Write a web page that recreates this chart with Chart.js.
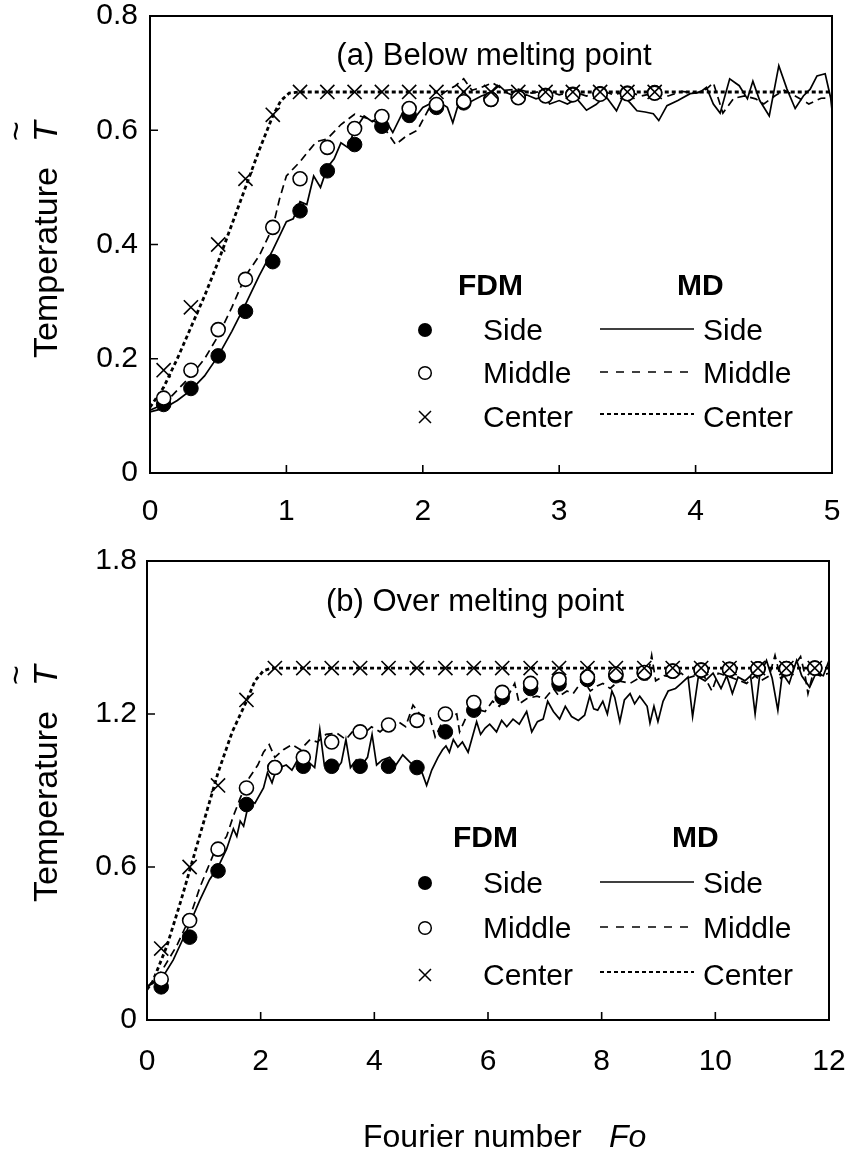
<!DOCTYPE html>
<html>
<head>
<meta charset="utf-8">
<script src="https://cdn.jsdelivr.net/npm/chart.js@4.4.1/dist/chart.umd.min.js"></script>
<style>
  html, body { margin: 0; padding: 0; background: #fff; }
  #wrap { position: relative; width: 846px; height: 1153px; }
  canvas { position: absolute; left: 0; }
</style>
</head>
<body>
<div id="wrap">
  <canvas id="chartA" width="846" height="540" style="top:0"></canvas>
  <canvas id="chartB" width="846" height="613" style="top:540px"></canvas>
</div>
<script>
const FONT = "'Liberation Sans', Arial, Helvetica, sans-serif";

// ---- (a) Below melting point ----
const fdmFoA = [0.1, 0.3, 0.5, 0.7, 0.9, 1.1, 1.3, 1.5, 1.7, 1.9, 2.1, 2.3, 2.5, 2.7, 2.9, 3.1, 3.3, 3.5, 3.7];
const fdmSideA = [0.12, 0.148, 0.205, 0.283, 0.37, 0.459, 0.529, 0.575, 0.607, 0.626, 0.64, 0.648, 0.654, 0.658, 0.661, 0.663, 0.664, 0.665, 0.666];
const fdmMiddleA = [0.131, 0.18, 0.251, 0.339, 0.43, 0.515, 0.57, 0.603, 0.624, 0.638, 0.645, 0.65, 0.654, 0.657, 0.66, 0.662, 0.663, 0.664, 0.665];
const fdmCenterA = [0.18, 0.29, 0.4, 0.515, 0.627, 0.667, 0.667, 0.667, 0.667, 0.667, 0.667, 0.667, 0.667, 0.667, 0.667, 0.667, 0.667, 0.667, 0.667];

// MD curves, [Fo, T]
const mdSideA = [[0,0.107],[0.1,0.113],[0.2,0.127],[0.3,0.145],[0.4,0.17],[0.5,0.205],[0.6,0.248],[0.7,0.295],[0.8,0.345],
  [0.9,0.39],[1.0,0.44],[1.05,0.445],[1.1,0.475],[1.15,0.47],[1.2,0.52],[1.25,0.5],[1.3,0.535],[1.35,0.55],[1.4,0.578],
  [1.45,0.57],[1.5,0.6],[1.57,0.625],[1.63,0.615],[1.7,0.628],[1.78,0.596],[1.85,0.63],[1.92,0.615],[2.0,0.64],[2.1,0.652],
  [2.18,0.64],[2.22,0.613],[2.26,0.645],[2.35,0.65],[2.43,0.66],[2.5,0.666],[2.56,0.678],[2.62,0.665],[2.7,0.657],[2.76,0.662],
  [2.83,0.655],[2.9,0.66],[2.93,0.646],[3.0,0.652],[3.06,0.646],[3.13,0.655],[3.2,0.635],[3.27,0.645],[3.34,0.66],[3.42,0.634],
  [3.47,0.66],[3.52,0.648],[3.57,0.634],[3.63,0.632],[3.69,0.629],[3.73,0.617],[3.79,0.643],[3.87,0.652],[3.96,0.664],[4.03,0.666],
  [4.08,0.675],[4.13,0.646],[4.18,0.63],[4.25,0.69],[4.32,0.678],[4.38,0.655],[4.42,0.686],[4.47,0.652],[4.54,0.625],[4.61,0.713],
  [4.67,0.672],[4.73,0.638],[4.79,0.66],[4.84,0.672],[4.89,0.695],[4.95,0.699],[4.99,0.657],[5.0,0.635]];
const mdMiddleA = [[0,0.11],[0.1,0.12],[0.2,0.145],[0.3,0.17],[0.4,0.2],[0.5,0.24],[0.6,0.29],[0.7,0.345],[0.8,0.38],[0.9,0.43],
  [0.95,0.48],[1.0,0.52],[1.1,0.545],[1.15,0.56],[1.22,0.58],[1.3,0.585],[1.4,0.61],[1.5,0.628],[1.6,0.62],[1.7,0.61],[1.8,0.575],
  [1.88,0.59],[1.96,0.6],[2.05,0.64],[2.15,0.665],[2.24,0.678],[2.3,0.69],[2.36,0.67],[2.43,0.675],[2.51,0.683],[2.6,0.67],
  [2.7,0.672],[2.8,0.665],[2.9,0.67],[3.0,0.662],[3.1,0.668],[3.2,0.66],[3.3,0.67],[3.4,0.662],[3.5,0.668],[3.6,0.66],[3.7,0.665],
  [3.8,0.66],[3.9,0.668],[4.0,0.665],[4.08,0.672],[4.13,0.683],[4.2,0.63],[4.28,0.656],[4.36,0.66],[4.44,0.655],[4.5,0.646],
  [4.58,0.66],[4.65,0.67],[4.73,0.66],[4.83,0.646],[4.92,0.656],[5.0,0.657]];
const mdCenterA = [[0,0.115],[0.1,0.15],[0.2,0.2],[0.3,0.255],[0.4,0.31],[0.5,0.37],[0.6,0.435],[0.7,0.5],[0.8,0.565],
  [0.9,0.625],[0.96,0.652],[1.02,0.665],[1.1,0.667],[5.0,0.667]];

// ---- (b) Over melting point ----
const fdmFoB = [0.25, 0.75, 1.25, 1.75, 2.25, 2.75, 3.25, 3.75, 4.25, 4.75, 5.25, 5.75, 6.25, 6.75, 7.25, 7.75, 8.25, 8.75, 9.25, 9.75, 10.25, 10.75, 11.25, 11.75];
const fdmSideB = [0.13, 0.325, 0.585, 0.845, 0.99, 0.995, 0.995, 0.995, 0.995, 0.99, 1.13, 1.215, 1.265, 1.3, 1.318, 1.335, 1.35, 1.36, 1.368, 1.372, 1.375, 1.377, 1.378, 1.38];
const fdmMiddleB = [0.16, 0.39, 0.67, 0.91, 0.99, 1.03, 1.09, 1.13, 1.157, 1.175, 1.2, 1.245, 1.285, 1.32, 1.335, 1.345, 1.357, 1.363, 1.368, 1.372, 1.375, 1.377, 1.378, 1.38];
const fdmCenterB = [0.28, 0.6, 0.92, 1.255, 1.38, 1.38, 1.38, 1.38, 1.38, 1.38, 1.38, 1.38, 1.38, 1.38, 1.38, 1.38, 1.38, 1.38, 1.38, 1.38, 1.38, 1.38, 1.38, 1.38];

const mdSideB = [[0,0.13],[0.15,0.15],[0.28,0.17],[0.46,0.235],[0.7,0.35],[0.93,0.47],[1.1,0.55],[1.25,0.6],[1.4,0.67],
  [1.52,0.75],[1.58,0.72],[1.64,0.78],[1.7,0.76],[1.8,0.86],[1.9,0.85],[2.05,0.91],[2.12,0.97],[2.2,0.93],[2.27,0.98],
  [2.34,0.99],[2.45,1.0],[2.55,0.98],[2.65,1.02],[2.75,0.99],[2.85,1.01],[2.95,0.99],[3.04,1.14],[3.12,1.0],[3.22,1.02],
  [3.32,0.98],[3.42,1.01],[3.5,1.1],[3.58,0.99],[3.68,1.02],[3.78,1.0],[3.88,1.03],[3.96,1.12],[4.04,1.0],[4.14,1.02],
  [4.27,1.03],[4.38,1.0],[4.5,1.04],[4.63,1.01],[4.75,0.99],[4.84,0.97],[4.92,0.92],[5.01,0.98],[5.12,1.03],[5.2,1.06],
  [5.26,1.075],[5.32,1.05],[5.39,1.1],[5.47,1.07],[5.55,1.09],[5.65,1.05],[5.8,1.17],[5.87,1.12],[5.95,1.145],[6.03,1.16],
  [6.15,1.13],[6.24,1.175],[6.33,1.15],[6.44,1.18],[6.55,1.16],[6.68,1.21],[6.77,1.13],[6.87,1.17],[6.97,1.18],[7.05,1.25],
  [7.15,1.21],[7.26,1.18],[7.36,1.23],[7.47,1.19],[7.59,1.175],[7.7,1.195],[7.79,1.27],[7.86,1.22],[7.93,1.215],[8.02,1.25],
  [8.1,1.2],[8.18,1.29],[8.23,1.265],[8.32,1.17],[8.4,1.255],[8.5,1.28],[8.58,1.24],[8.67,1.27],[8.8,1.23],[8.85,1.165],
  [8.92,1.23],[8.99,1.17],[9.08,1.25],[9.17,1.29],[9.3,1.3],[9.4,1.32],[9.52,1.345],[9.6,1.19],[9.7,1.345],[9.82,1.33],
  [9.96,1.36],[10.1,1.3],[10.2,1.35],[10.3,1.28],[10.4,1.345],[10.52,1.33],[10.62,1.35],[10.7,1.2],[10.78,1.35],[10.9,1.41],
  [11.0,1.34],[11.1,1.215],[11.18,1.36],[11.3,1.32],[11.43,1.41],[11.52,1.35],[11.66,1.305],[11.77,1.36],[11.9,1.35],[12.0,1.41]];
const mdMiddleB = [[0,0.13],[0.2,0.17],[0.52,0.29],[0.75,0.4],[0.93,0.52],[1.17,0.65],[1.4,0.72],[1.52,0.8],[1.64,0.87],
  [1.8,0.95],[1.95,1.0],[2.05,1.05],[2.15,1.08],[2.25,1.03],[2.4,1.06],[2.55,1.08],[2.7,1.06],[2.87,1.1],[3.0,1.09],[3.15,1.12],
  [3.34,1.125],[3.5,1.1],[3.65,1.14],[3.8,1.12],[3.95,1.15],[4.1,1.13],[4.25,1.16],[4.42,1.17],[4.55,1.15],[4.68,1.235],
  [4.8,1.2],[4.98,1.185],[5.07,1.11],[5.2,1.17],[5.32,1.19],[5.45,1.2],[5.5,1.13],[5.62,1.19],[5.78,1.22],[5.95,1.21],
  [6.08,1.25],[6.2,1.23],[6.35,1.27],[6.47,1.32],[6.55,1.24],[6.68,1.26],[6.86,1.27],[7.0,1.26],[7.15,1.3],[7.25,1.27],
  [7.39,1.29],[7.5,1.28],[7.67,1.335],[7.8,1.29],[7.92,1.31],[8.02,1.32],[8.15,1.3],[8.3,1.33],[8.5,1.32],[8.65,1.34],
  [8.8,1.335],[8.88,1.43],[8.95,1.33],[9.1,1.35],[9.23,1.345],[9.4,1.36],[9.5,1.34],[9.64,1.35],[9.8,1.35],[9.94,1.29],
  [10.05,1.36],[10.2,1.35],[10.38,1.335],[10.55,1.32],[10.7,1.35],[10.8,1.33],[10.95,1.35],[11.05,1.43],[11.15,1.34],
  [11.3,1.36],[11.5,1.425],[11.58,1.35],[11.63,1.28],[11.72,1.36],[11.85,1.35],[12.0,1.36]];
const mdCenterB = [[0,0.12],[0.1,0.15],[0.35,0.29],[0.6,0.47],[0.95,0.74],[1.25,0.97],[1.5,1.13],[1.75,1.25],[1.9,1.33],
  [2.05,1.37],[2.2,1.38],[12.0,1.38]];

const legendRows = ['Side', 'Middle', 'Center'];

function pts(xs, ys) {
  return xs.map((x, i) => ({ x: x, y: ys[i] }));
}
function pairs(list) {
  return list.map(p => ({ x: p[0], y: p[1] }));
}

function makeDatasets(fo, side, middle, center, mdS, mdM, mdC) {
  return [
    { label: 'FDM Center', data: pts(fo, center), showLine: false, pointStyle: 'crossRot', pointRadius: 10,
      borderColor: '#000', backgroundColor: '#000', borderWidth: 1.6, order: 0 },
    { label: 'FDM Middle', data: pts(fo, middle), showLine: false, pointStyle: 'circle', pointRadius: 7,
      borderColor: '#000', backgroundColor: '#fff', borderWidth: 1.6, order: 1 },
    { label: 'FDM Side', data: pts(fo, side), showLine: false, pointStyle: 'circle', pointRadius: 7.3,
      borderColor: '#000', backgroundColor: '#000', borderWidth: 1, order: 2 },
    { label: 'MD Side', data: pairs(mdS), showLine: true, pointRadius: 0, borderColor: '#000',
      borderWidth: 1.7, tension: 0, order: 3 },
    { label: 'MD Middle', data: pairs(mdM), showLine: true, pointRadius: 0, borderColor: '#000',
      borderWidth: 1.7, borderDash: [8, 5], tension: 0, order: 4 },
    { label: 'MD Center', data: pairs(mdC), showLine: true, pointRadius: 0, borderColor: '#000',
      borderWidth: 2.8, borderDash: [4, 3], tension: 0, order: 5 }
  ];
}

function drawYTitle(ctx, gx, gy) {
  ctx.save();
  ctx.translate(gx, gy);
  ctx.rotate(-Math.PI / 2);
  ctx.fillStyle = '#000';
  ctx.textBaseline = 'alphabetic';
  ctx.textAlign = 'left';
  ctx.font = '34px ' + FONT;
  ctx.fillText('Temperature', 0, 0);
  ctx.font = 'italic 34px ' + FONT;
  ctx.fillText('T', 216, 0);
  ctx.font = '34px ' + FONT;
  ctx.textAlign = 'center';
  ctx.fillText('~', 227, -30);
  ctx.restore();
}

function drawLegend(ctx, L) {
  ctx.save();
  ctx.fillStyle = '#000';
  ctx.strokeStyle = '#000';
  ctx.textAlign = 'left';
  ctx.textBaseline = 'alphabetic';
  ctx.font = 'bold 30px ' + FONT;
  ctx.fillText('FDM', L.fdmX, L.headY);
  ctx.fillText('MD', L.mdX, L.headY);
  ctx.font = '30px ' + FONT;
  legendRows.forEach((name, i) => {
    const base = L.rowY[i];
    const my = base - 10;
    ctx.fillText(name, 483, base);
    ctx.fillText(name, 703, base);
    // FDM marker
    ctx.lineWidth = 1.5;
    ctx.setLineDash([]);
    if (i === 0) {
      ctx.beginPath(); ctx.arc(425, my, 7, 0, Math.PI * 2); ctx.fill();
    } else if (i === 1) {
      ctx.beginPath(); ctx.arc(425, my, 6.3, 0, Math.PI * 2); ctx.stroke();
    } else {
      ctx.beginPath();
      ctx.moveTo(419, my - 6); ctx.lineTo(431, my + 6);
      ctx.moveTo(431, my - 6); ctx.lineTo(419, my + 6);
      ctx.stroke();
    }
    // MD line sample
    const ly = my - (i === 2 ? 3 : 1);
    if (i === 0) { ctx.lineWidth = 1.7; ctx.setLineDash([]); }
    if (i === 1) { ctx.lineWidth = 1.7; ctx.setLineDash([8, 8]); }
    if (i === 2) { ctx.lineWidth = 2.2; ctx.setLineDash([4, 3]); }
    ctx.beginPath(); ctx.moveTo(600, ly); ctx.lineTo(694, ly); ctx.stroke();
  });
  ctx.restore();
}

function decorPlugin(opts) {
  return {
    id: 'decor',
    afterDraw(chart) {
      const ctx = chart.ctx, a = chart.chartArea;
      const xs = chart.scales.x, ys = chart.scales.y;
      ctx.save();
      ctx.strokeStyle = '#000';
      ctx.lineWidth = 2;
      ctx.setLineDash([]);
      ctx.strokeRect(a.left, a.top, a.right - a.left, a.bottom - a.top);
      ctx.lineWidth = 1.6;
      ctx.beginPath();
      xs.ticks.forEach(t => {
        if (t.value > xs.min && t.value < xs.max) {
          const px = xs.getPixelForValue(t.value);
          ctx.moveTo(px, a.bottom); ctx.lineTo(px, a.bottom - 8);
        }
      });
      ys.ticks.forEach(t => {
        if (t.value > ys.min && t.value < ys.max) {
          const py = ys.getPixelForValue(t.value);
          ctx.moveTo(a.left, py); ctx.lineTo(a.left + 8, py);
        }
      });
      ctx.stroke();

      ctx.fillStyle = '#000';
      ctx.font = '31px ' + FONT;
      ctx.textAlign = 'center';
      ctx.textBaseline = 'alphabetic';
      ctx.fillText(opts.title, opts.titleX, opts.titleY);
      ctx.restore();

      drawYTitle(ctx, 57, opts.yTitleY);
      drawLegend(ctx, opts.legend);

      if (opts.xTitle) {
        ctx.save();
        ctx.fillStyle = '#000';
        ctx.textAlign = 'left';
        ctx.textBaseline = 'alphabetic';
        ctx.font = '32px ' + FONT;
        ctx.fillText('Fourier number', 363, opts.xTitleY);
        ctx.font = 'italic 32px ' + FONT;
        ctx.fillText('Fo', 609, opts.xTitleY);
        ctx.restore();
      }
    }
  };
}

function makeChart(id, datasets, opts) {
  const tickFont = { family: FONT, size: 30, lineHeight: 1 };
  return new Chart(document.getElementById(id), {
    type: 'scatter',
    data: { datasets: datasets },
    options: {
      responsive: false,
      animation: false,
      devicePixelRatio: 1,
      layout: { padding: { top: opts.padTop, right: opts.padRight, left: 0, bottom: 0 } },
      plugins: { legend: { display: false }, tooltip: { enabled: false } },
      scales: {
        x: {
          type: 'linear', min: 0, max: opts.xMax,
          ticks: { stepSize: opts.xStep, padding: opts.xPad, color: '#000', font: tickFont, maxRotation: 0, autoSkip: false },
          grid: { display: false, drawTicks: false },
          border: { display: false },
          afterFit: s => { s.height = opts.xHeight; s.paddingLeft = 0; s.paddingRight = 0; }
        },
        y: {
          type: 'linear', min: 0, max: opts.yMax,
          ticks: {
            stepSize: opts.yStep, padding: opts.yPad, color: '#000', font: tickFont,
            callback: v => (Math.abs(v) < 1e-9 ? '0' : v.toFixed(1))
          },
          grid: { display: false, drawTicks: false },
          border: { display: false },
          afterFit: s => { s.width = opts.yWidth; s.paddingTop = 0; s.paddingBottom = 0; }
        }
      }
    },
    plugins: [decorPlugin(opts)]
  });
}

makeChart('chartA',
  makeDatasets(fdmFoA, fdmSideA, fdmMiddleA, fdmCenterA, mdSideA, mdMiddleA, mdCenterA),
  {
    xMax: 5, xStep: 1, yMax: 0.8, yStep: 0.2,
    padTop: 16, padRight: 14, yWidth: 150, xHeight: 67, xPad: 24, yPad: 12,
    title: '(a) Below melting point', titleX: 494, titleY: 65,
    yTitleY: 358,
    legend: { fdmX: 458, mdX: 677, headY: 295, rowY: [340, 383, 427] }
  });

makeChart('chartB',
  makeDatasets(fdmFoB, fdmSideB, fdmMiddleB, fdmCenterB, mdSideB, mdMiddleB, mdCenterB),
  {
    xMax: 12, xStep: 2, yMax: 1.8, yStep: 0.6,
    padTop: 21, padRight: 17, yWidth: 147, xHeight: 133, xPad: 27, yPad: 10,
    title: '(b) Over melting point', titleX: 475, titleY: 71,
    yTitleY: 362,
    legend: { fdmX: 453, mdX: 672, headY: 307, rowY: [353, 398, 445] },
    xTitle: true, xTitleY: 607
  });
</script>
</body>
</html>
